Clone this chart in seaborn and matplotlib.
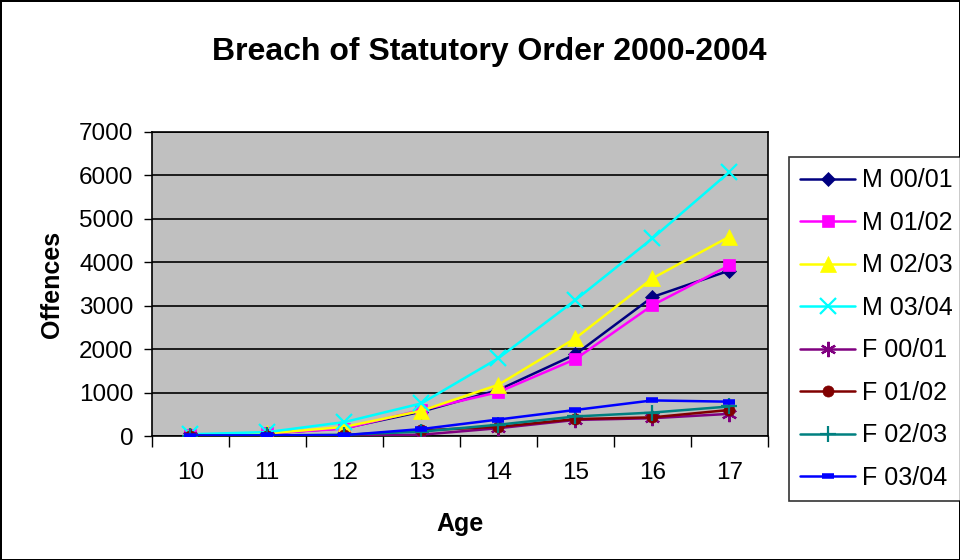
import matplotlib
matplotlib.use("Agg")
import matplotlib.pyplot as plt
import seaborn as sns
import pandas as pd
import numpy as np

ages = [10, 11, 12, 13, 14, 15, 16, 17]
series_names = ["M 00/01", "M 01/02", "M 02/03", "M 03/04",
                "F 00/01", "F 01/02", "F 02/03", "F 03/04"]
m_00_01 = [30, 60, 180, 560, 1060, 1880, 3200, 3810]
m_01_02 = [30, 60, 170, 600, 1010, 1770, 3010, 3930]
m_02_03 = [30, 60, 210, 580, 1180, 2250, 3630, 4590]
m_03_04 = [40, 90, 320, 750, 1790, 3130, 4550, 6080]
f_00_01 = [5, 5, 5, 30, 180, 370, 410, 510]
f_01_02 = [10, 10, 15, 130, 210, 390, 430, 600]
f_02_03 = [10, 15, 30, 100, 260, 450, 540, 680]
f_03_04 = [10, 15, 20, 160, 380, 600, 820, 790]
series_values = [m_00_01, m_01_02, m_02_03, m_03_04,
                 f_00_01, f_01_02, f_02_03, f_03_04]

colors = ["#000080", "#FF00FF", "#FFFF00", "#00FFFF",
          "#800080", "#800000", "#008080", "#0000FF"]
markers = ["D", "s", "^", "x", (6, 2, 0), "o", "+", "_"]
msizes = [7, 8, 11, 12, 11, 8, 11, 8]

rows = []
for name, vals in zip(series_names, series_values):
    for a, v in zip(ages, vals):
        rows.append({"Age": a, "Offences": v, "Series": name})
df = pd.DataFrame(rows)

sns.set_theme(style="white")
plt.rcParams["font.family"] = ["Liberation Sans", "DejaVu Sans"]
plt.rcParams["text.color"] = "black"
plt.rcParams["axes.labelcolor"] = "black"
plt.rcParams["xtick.color"] = "black"
plt.rcParams["ytick.color"] = "black"

fig = plt.figure(figsize=(9.6, 5.6), dpi=100)
fig.patch.set_facecolor("white")
fig.patch.set_edgecolor("black")
fig.patch.set_linewidth(2)
ax = fig.add_axes([0.158, 0.2214, 0.642, 0.543])
ax.set_facecolor("#C0C0C0")

for i, name in enumerate(series_names):
    sub = df[df["Series"] == name]
    if markers[i] == "_":
        mew = 4
    elif markers[i] in ["x", "+", (6, 2, 0)]:
        mew = 1.6
    else:
        mew = 0.5
    sns.lineplot(data=sub, x="Age", y="Offences", ax=ax, color=colors[i],
                 marker=markers[i], markersize=msizes[i], linewidth=1.8,
                 markeredgecolor=colors[i], markerfacecolor=colors[i],
                 markeredgewidth=mew, label=name, zorder=3 + i)

ax.set_xlim(9.5, 17.5)
ax.set_ylim(0, 7000)
ax.set_yticks(np.arange(0, 7001, 1000))
ax.set_xticks(ages)
ax.set_xticks(np.arange(9.5, 17.6, 1), minor=True)
ax.tick_params(axis="x", which="major", length=0, labelsize=17.5, pad=19)
ax.tick_params(axis="x", which="minor", length=8, width=1, direction="out", bottom=True, color="black")
ax.tick_params(axis="y", which="major", length=6, width=1, direction="out", left=True,
               labelsize=17.5, color="black", pad=7)
ax.yaxis.grid(True, color="black", linewidth=1.2)
ax.xaxis.grid(False)
ax.set_axisbelow(True)
for s in ax.spines.values():
    s.set_color("black")
    s.set_linewidth(1.2)

ax.set_xlabel("Age", fontsize=18, fontweight="bold", labelpad=20)
ax.set_ylabel("Offences", fontsize=18, fontweight="bold", labelpad=11)
fig.text(0.51, 0.907, "Breach of Statutory Order 2000-2004", ha="center", va="center",
         fontsize=23, fontweight="bold")

leg = ax.legend(loc="upper left", bbox_to_anchor=(0.822, 0.7196), bbox_transform=fig.transFigure,
                fontsize=18, frameon=True, fancybox=False, edgecolor="black",
                handlelength=2.2, labelspacing=0.74, borderpad=0.45, handletextpad=0.25,
                borderaxespad=0)
leg.get_frame().set_linewidth(1.2)

fig.savefig("out.png", dpi=100, facecolor="white", edgecolor="black")
